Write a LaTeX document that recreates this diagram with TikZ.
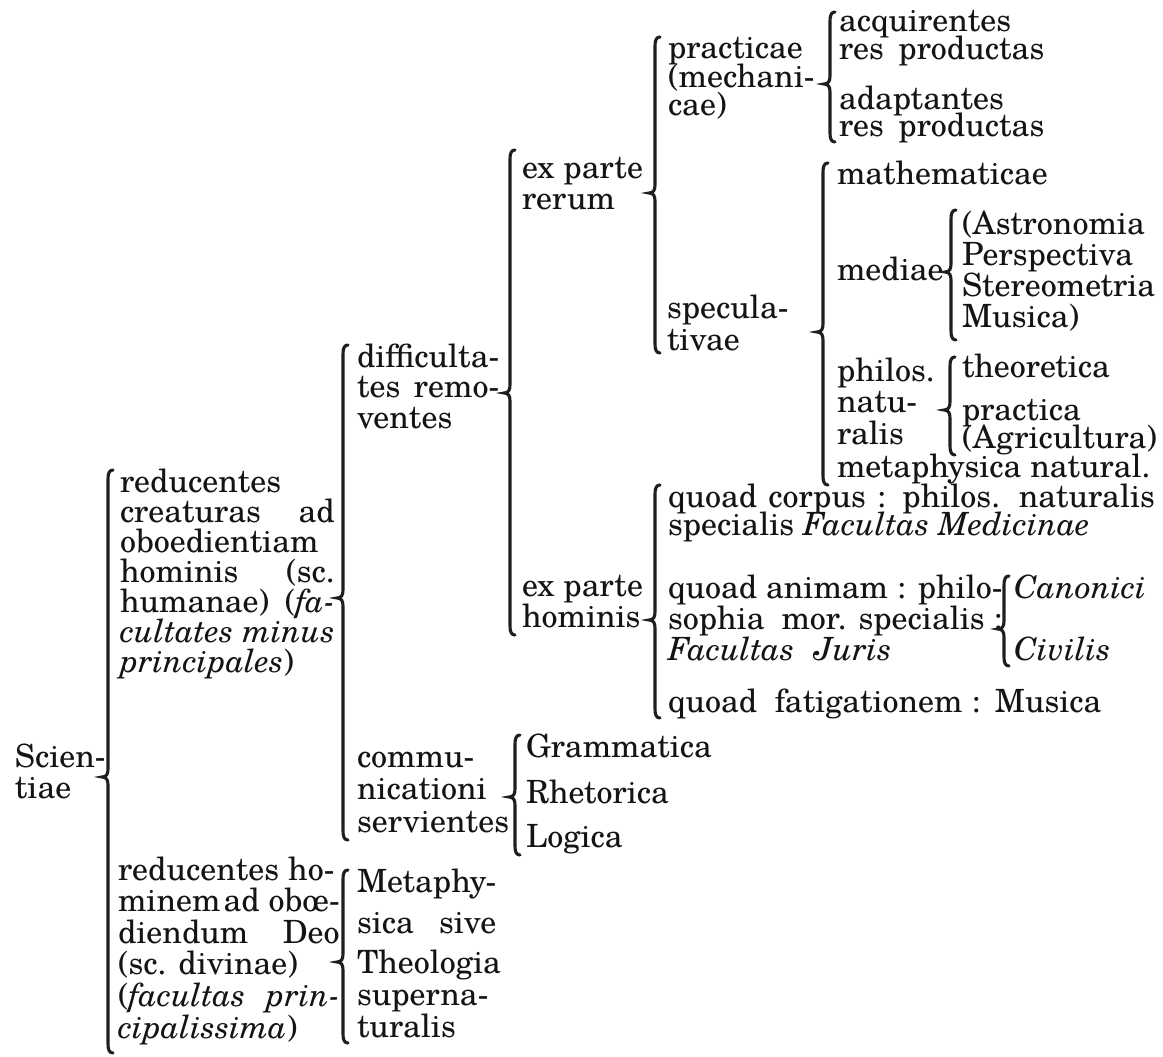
\documentclass[tikz,border=0pt]{standalone}
\usepackage{fontspec}
\setmainfont{texgyreschola}[Extension=.otf, UprightFont=*-regular, ItalicFont=*-italic, BoldFont=*-bold, BoldItalicFont=*-bolditalic]
\newcommand\nb[2][30pt]{\vtop{\baselineskip=#1\relax\lineskiplimit=-100pt\lineskip=0pt\halign{##\hfil\cr#2\crcr}}}
\newcommand\jl[2]{\hbox to #1{#2}}
\newcommand\brc[4]{\draw[brk] (#1+5,#2) .. controls (#1+1.5,#2) and (#1,#2+3) .. (#1,#2+9) -- (#1,#3-8) .. controls (#1,#3-3) and (#1-1.5,#3) .. (#1-6,#3) .. controls (#1-1.5,#3) and (#1,#3+3) .. (#1,#3+8) -- (#1,#4-9) .. controls (#1,#4-3) and (#1+1.5,#4) .. (#1+5,#4);}
\tikzset{
  lbl/.style={anchor=base west, inner sep=0pt, outer sep=0pt, text=black!92, font=\fontsize{32}{30}\selectfont},
  brk/.style={line width=3.1pt, line cap=round, draw=black!88}
}
\begin{document}
\begin{tikzpicture}[x=1pt,y=-1pt]
\fill[white] (0,0) rectangle (1163,1057);
\useasboundingbox (0,0) rectangle (1163,1057);
% root
\node[lbl] (root) at (15,767) {\nb[31pt]{Scien-\cr tiae}};
\brc{108}{470}{777}{1053}
% reducentes creaturas
\node[lbl] (hum) at (120,492) {\nb[30pt]{reducentes\cr creaturas \hfill ad\cr oboedientiam\cr hominis \hfill (sc.\cr humanae) \hfill (\textit{fa-}\cr \textit{cultates \hfill minus}\cr \textit{principales})}};
\brc{343}{345}{598}{840}
% difficultates removentes
\node[lbl] (diff) at (357,367) {\nb[30.5pt]{difficulta-\cr tes \hfill remo-\cr ventes}};
\brc{510}{150}{393}{635}
% ex parte rerum
\node[lbl] (rer) at (522,178) {\nb[32pt]{ex parte\cr rerum}};
\brc{655}{37}{193}{353}
\node[lbl] (prac) at (668,59) {\nb[28.5pt]{practicae\cr (mechani-\cr cae)}};
\brc{830}{12}{84}{142}
\node[lbl] (acq) at (839,32) {\nb[28pt]{acquirentes\cr res\hspace{0.45em}productas}};
\node[lbl] (adp) at (839,110) {\nb[27pt]{adaptantes\cr res\hspace{0.45em}productas}};
\node[lbl] (spec) at (667,318) {\nb[32pt]{specula-\cr tivae}};
\brc{823}{163}{332}{485}
\node[lbl] (math) at (837,184) {mathematicae};
\node[lbl] (med) at (837,280) {mediae};
\brc{951}{210}{272}{340}
\node[lbl] (ast) at (962,234) {\nb[31pt]{(Astronomia\cr Perspectiva\cr Stereometria\cr Musica)}};
\node[lbl] (phn) at (837,381) {\nb[31.5pt]{philos.\cr natu-\cr ralis}};
\brc{950}{357}{410}{455}
\node[lbl] (theo) at (962,377) {theoretica};
\node[lbl] (pra) at (962,420) {\nb[28pt]{practica\cr (Agricultura)}};
\node[lbl] (meta) at (837,477) {metaphysica natural.};
% ex parte hominis
\node[lbl] (hom) at (522,596) {\nb[31pt]{ex parte\cr hominis}};
\brc{655}{485}{620}{718}
\node[lbl] (qc) at (668,507) {\nb[28pt]{\jl{487pt}{quoad corpus : philos. naturalis}\cr specialis \textit{Facultas Medicinae}}};
\node[lbl] (qa) at (668,598) {\nb[31pt]{quoad animam : philo-\cr sophia \hfill mor. specialis :\cr \textit{Facultas\hspace{0.6em}Juris}}};
\brc{1004}{576}{629}{666}
\node[lbl] (can) at (1014,598) {\textit{Canonici}};
\node[lbl] (civ) at (1014,660) {\textit{Civilis}};
\node[lbl] (qf) at (668,712) {quoad\hspace{0.55em}fatigationem :\hspace{0.45em}Musica};
% communicationi servientes
\node[lbl] (com) at (357,767) {\nb[32.5pt]{commu-\cr nicationi\cr servientes}};
\brc{515}{735}{797}{855}
\node[lbl] (gram) at (526,757) {Grammatica};
\node[lbl] (rhet) at (526,803) {Rhetorica};
\node[lbl] (log) at (526,847) {Logica};
% reducentes hominem
\node[lbl] (div) at (118,880) {\nb[31.6pt]{reducentes ho-\cr minem\hspace{3pt}ad ob\oe-\cr diendum \hfill Deo\cr (sc. divinae)\cr (\textit{facultas \hfill prin-}\cr \textit{cipalissima})}};
\brc{343}{870}{962}{1043}
\node[lbl] (mt1) at (357,892) {\nb[41pt]{Metaphy-\cr sica \hfill sive}};
\node[lbl] (mt2) at (357,973) {\nb[32pt]{Theologia\cr superna-\cr turalis}};
\end{tikzpicture}
\end{document}
